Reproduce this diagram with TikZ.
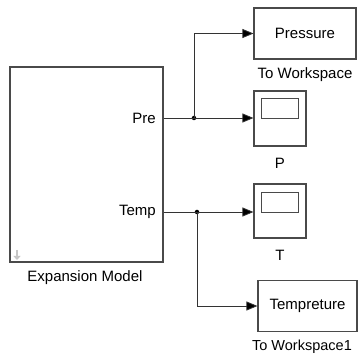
\documentclass[tikz,border=0pt]{standalone}
\usepackage{fontspec}
\setmainfont{Liberation Sans}
\usetikzlibrary{arrows.meta,calc}
\definecolor{edge}{HTML}{4A4A4A}
\definecolor{wire}{HTML}{333333}
\tikzset{
  blk/.style={draw=edge, line width=1.1pt, fill=white, inner sep=0pt, font=\fontsize{15}{17}\selectfont},
  screen/.style={draw=edge, line width=1pt, fill=white, minimum width=37pt, minimum height=20pt, inner sep=0pt},
  lbl/.style={font=\fontsize{15}{17}\selectfont, inner sep=0pt},
  wireline/.style={draw=wire, line width=0.8pt},
  arr/.style={wireline, -{Triangle[length=11pt,width=9pt,fill=black]}},
  junc/.style={circle, fill=black, inner sep=0pt, minimum size=4.5pt},
}
\begin{document}
\begin{tikzpicture}[x=1pt,y=-1pt]
\useasboundingbox (0,0) rectangle (360,356);
% main subsystem
\node[blk, minimum width=153pt, minimum height=195pt] (em) at (86.5,164.5) {};
\node[lbl] (emlbl) at (85,278) {Expansion Model};
\node[lbl, anchor=east] (prelbl) at (156,118) {Pre};
\node[lbl, anchor=east] (templbl) at (156,212) {Temp};
\coordinate (pre) at (em.east |- 0,118);
\coordinate (temp) at (em.east |- 0,212);
% small down-arrow icon
\draw[draw=gray!45, line width=2.2pt, -{Triangle[length=4pt,width=7pt]}, color=gray!45] (17,250) -- (17,260);
% To Workspace blocks
\node[blk, minimum width=102pt, minimum height=51pt] (pw) at (305,33.5) {Pressure};
\node[lbl] (pwlbl) at (305,75) {To Workspace};
\node[blk, minimum width=99pt, minimum height=51pt] (tw) at (307.5,306) {Tempreture};
\node[lbl, font=\fontsize{14.5}{16}\selectfont] (twlbl) at (302,347) {To Workspace1};
% scopes
\node[blk, minimum width=52pt, minimum height=55pt] (sp) at (280,118.5) {};
\node[screen] (spscr) at (280.5,109) {};
\node[lbl] (splbl) at (280,163) {P};
\node[blk, minimum width=52pt, minimum height=54pt] (st) at (280,211) {};
\node[screen] (stscr) at (280.5,202.5) {};
\node[lbl] (stlbl) at (280,255) {T};
% junctions
\node[junc] (jp) at (194,118) {};
\node[junc] (jt) at (197,212) {};
% wires
\draw[wireline] (pre) -- (jp.center);
\draw[arr] (jp.center) -- (sp.west |- jp);
\draw[arr] (jp.center) |- (pw.west);
\draw[wireline] (temp) -- (jt.center);
\draw[arr] (jt.center) -- (st.west |- jt);
\draw[arr] (jt.center) |- (tw.west);
\end{tikzpicture}
\end{document}
